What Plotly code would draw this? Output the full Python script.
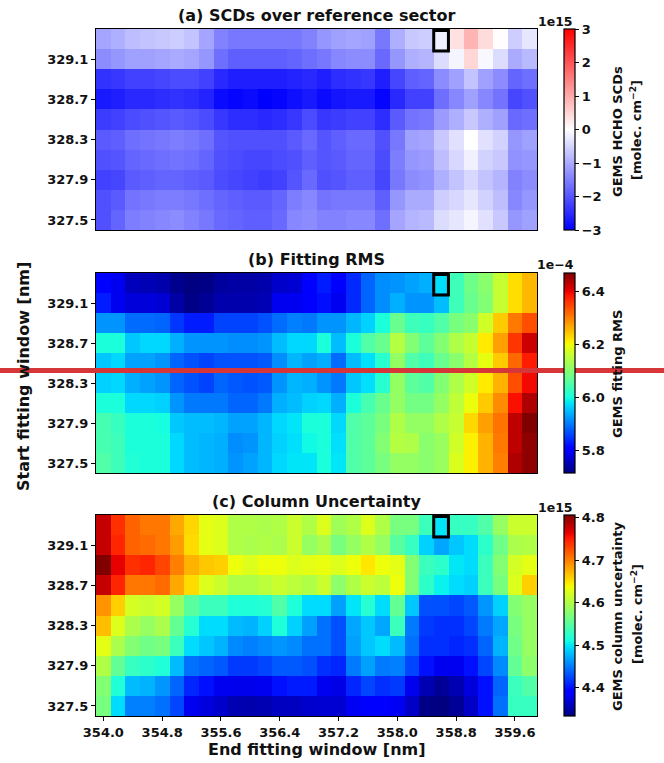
import numpy as np
import plotly.graph_objects as go

# ---- grid: end / start wavelengths of the fitting window [nm] ----
end_nm = [354.0, 354.2, 354.4, 354.6, 354.8, 355.0, 355.2, 355.4, 355.6, 355.8,
          356.0, 356.2, 356.4, 356.6, 356.8, 357.0, 357.2, 357.4, 357.6, 357.8,
          358.0, 358.2, 358.4, 358.6, 358.8, 359.0, 359.2, 359.4, 359.6, 359.8]
start_nm = [329.3, 329.1, 328.9, 328.7, 328.5, 328.3, 328.1, 327.9, 327.7, 327.5]

x_ticks = [354.0, 354.8, 355.6, 356.4, 357.2, 358.0, 358.8, 359.6]
x_ticklabels = ["354.0", "354.8", "355.6", "356.4", "357.2", "358.0", "358.8", "359.6"]
y_ticks = [327.5, 327.9, 328.3, 328.7, 329.1]
y_ticklabels = ["327.5", "327.9", "328.3", "328.7", "329.1"]

# selected window (end, start)
sel_end, sel_start = 358.6, 329.3

# ---- (a) HCHO SCDs over reference sector [1e15 molec cm-2], rows = start_nm ----
scd = [
    [-1.06, -0.94, -0.76, -0.71, -0.65, -0.59, -0.71, -1.06, -1.47, -1.59, -1.59, -1.59, -1.59, -1.59, -1.47,
     -1.24, -1.12, -1.06, -1.12, -1.59, -0.94, -0.65, -0.59, -0.18, 0.35, 0.88, 0.41, 0.02, -0.59, -0.29],
    [-1.35, -1.24, -1.12, -1.12, -1.06, -1.00, -1.06, -1.24, -1.71, -1.88, -1.88, -1.88, -1.88, -1.82, -1.71,
     -1.59, -1.41, -1.35, -1.35, -1.76, -1.24, -0.94, -0.88, -0.41, -0.12, 0.47, -0.08, -0.41, -1.00, -0.82],
    [-2.41, -2.35, -2.24, -2.24, -2.18, -2.12, -2.12, -2.24, -2.53, -2.65, -2.65, -2.65, -2.65, -2.59, -2.53,
     -2.65, -2.47, -2.41, -2.35, -2.65, -2.18, -1.88, -1.82, -1.35, -1.12, -0.71, -1.12, -1.35, -1.82, -1.71],
    [-2.71, -2.65, -2.53, -2.53, -2.47, -2.41, -2.47, -2.59, -2.88, -2.94, -2.88, -3.00, -2.94, -2.82, -2.71,
     -2.88, -2.76, -2.71, -2.71, -2.94, -2.53, -2.24, -2.24, -1.71, -1.41, -1.12, -1.41, -1.65, -2.18, -2.06],
    [-2.29, -2.24, -2.12, -2.06, -2.00, -1.94, -2.00, -2.12, -2.35, -2.47, -2.47, -2.53, -2.47, -2.35, -2.12,
     -2.35, -2.29, -2.24, -2.24, -2.47, -1.94, -1.65, -1.59, -1.18, -0.94, -0.65, -0.94, -1.12, -1.76, -1.71],
    [-1.94, -1.88, -1.71, -1.65, -1.59, -1.53, -1.59, -1.71, -2.00, -2.06, -2.06, -2.06, -2.06, -1.94, -1.76,
     -2.00, -1.88, -1.76, -1.76, -2.06, -1.59, -1.12, -1.06, -0.65, -0.35, 0.00, -0.35, -0.53, -1.24, -1.12],
    [-2.06, -2.00, -1.82, -1.76, -1.71, -1.65, -1.71, -1.82, -2.06, -2.12, -2.18, -2.18, -2.12, -2.06, -1.88,
     -2.00, -1.94, -1.82, -1.82, -2.12, -1.53, -1.24, -1.18, -0.76, -0.47, -0.18, -0.53, -0.65, -1.29, -1.24],
    [-2.24, -2.18, -1.94, -1.88, -1.82, -1.82, -1.88, -1.94, -2.12, -2.18, -2.24, -2.29, -2.24, -2.00, -1.76,
     -2.06, -2.00, -1.88, -1.88, -2.18, -1.59, -1.35, -1.29, -0.94, -0.71, -0.47, -0.71, -0.88, -1.47, -1.35],
    [-2.06, -1.94, -1.65, -1.59, -1.53, -1.53, -1.59, -1.71, -1.82, -1.88, -1.94, -1.94, -1.82, -1.53, -1.41,
     -1.65, -1.59, -1.59, -1.59, -1.88, -1.24, -1.00, -1.00, -0.59, -0.47, -0.29, -0.53, -0.76, -1.41, -1.24],
    [-2.06, -1.82, -1.53, -1.47, -1.41, -1.35, -1.47, -1.59, -1.76, -1.82, -1.88, -1.88, -1.76, -1.41, -1.35,
     -1.47, -1.47, -1.41, -1.41, -1.71, -1.06, -0.88, -0.82, -0.41, -0.29, -0.12, -0.35, -0.65, -1.24, -1.12],
]

# ---- (b) fitting RMS [1e-4] ----
rms = [
    [5.800, 5.790, 5.755, 5.750, 5.745, 5.725, 5.716, 5.720, 5.735, 5.740, 5.740, 5.745, 5.765, 5.770, 5.800,
     5.830, 5.800, 5.840, 5.885, 5.915, 5.920, 5.930, 5.940, 5.975, 6.035, 6.080, 6.105, 6.160, 6.225, 6.255],
    [5.830, 5.790, 5.775, 5.775, 5.770, 5.740, 5.720, 5.730, 5.745, 5.745, 5.745, 5.750, 5.790, 5.790, 5.800,
     5.820, 5.790, 5.840, 5.885, 5.915, 5.940, 5.920, 5.920, 5.950, 6.035, 6.075, 6.100, 6.160, 6.225, 6.255],
    [5.920, 5.920, 5.890, 5.890, 5.885, 5.850, 5.830, 5.830, 5.860, 5.860, 5.860, 5.870, 5.890, 5.905, 5.900,
     5.920, 5.920, 5.945, 5.965, 6.005, 6.075, 6.035, 6.030, 6.053, 6.090, 6.105, 6.170, 6.240, 6.306, 6.340],
    [6.005, 6.005, 5.958, 5.970, 5.970, 5.940, 5.920, 5.920, 5.920, 5.915, 5.915, 5.920, 5.950, 5.970, 5.970,
     6.005, 5.950, 6.005, 6.053, 6.075, 6.145, 6.100, 6.065, 6.100, 6.140, 6.160, 6.215, 6.275, 6.360, 6.420],
    [5.958, 5.970, 5.930, 5.930, 5.920, 5.885, 5.870, 5.860, 5.870, 5.870, 5.870, 5.876, 5.915, 5.945, 5.930,
     5.940, 5.890, 5.950, 5.975, 6.015, 6.115, 6.053, 6.035, 6.075, 6.105, 6.145, 6.190, 6.240, 6.320, 6.380],
    [5.965, 5.970, 5.940, 5.930, 5.920, 5.885, 5.870, 5.860, 5.885, 5.876, 5.870, 5.876, 5.920, 5.945, 5.940,
     5.920, 5.900, 5.958, 5.975, 6.015, 6.115, 6.065, 6.053, 6.100, 6.140, 6.170, 6.215, 6.260, 6.340, 6.395],
    [6.005, 6.005, 5.970, 5.970, 5.965, 5.920, 5.900, 5.900, 5.900, 5.885, 5.885, 5.900, 5.940, 5.950, 5.965,
     5.970, 5.940, 6.005, 6.045, 6.075, 6.115, 6.085, 6.085, 6.115, 6.155, 6.195, 6.240, 6.290, 6.390, 6.440],
    [6.045, 6.030, 6.005, 6.005, 6.000, 5.958, 5.950, 5.950, 5.945, 5.930, 5.930, 5.945, 5.970, 5.980, 6.005,
     6.005, 5.970, 6.053, 6.065, 6.090, 6.140, 6.115, 6.115, 6.140, 6.160, 6.230, 6.275, 6.310, 6.430, 6.470],
    [6.045, 6.035, 6.005, 6.005, 6.005, 5.970, 5.950, 5.945, 5.940, 5.915, 5.920, 5.945, 5.965, 5.975, 5.995,
     6.005, 5.975, 6.053, 6.065, 6.100, 6.145, 6.140, 6.105, 6.120, 6.170, 6.210, 6.260, 6.306, 6.430, 6.460],
    [6.053, 6.035, 6.010, 6.005, 6.005, 5.970, 5.950, 5.945, 5.940, 5.920, 5.930, 5.945, 5.970, 5.980, 5.980,
     6.005, 5.980, 6.053, 6.065, 6.090, 6.115, 6.115, 6.105, 6.120, 6.180, 6.210, 6.260, 6.300, 6.440, 6.460],
]

# ---- (c) column uncertainty [1e15 molec cm-2] ----
unc = [
    [4.778, 4.740, 4.714, 4.704, 4.704, 4.679, 4.656, 4.630, 4.625, 4.600, 4.600, 4.597, 4.600, 4.615, 4.600,
     4.625, 4.590, 4.600, 4.625, 4.600, 4.568, 4.568, 4.533, 4.499, 4.530, 4.530, 4.545, 4.585, 4.615, 4.615],
    [4.778, 4.745, 4.714, 4.710, 4.704, 4.685, 4.654, 4.630, 4.625, 4.600, 4.597, 4.600, 4.597, 4.615, 4.585,
     4.597, 4.568, 4.585, 4.600, 4.585, 4.550, 4.530, 4.490, 4.470, 4.485, 4.495, 4.525, 4.563, 4.597, 4.600],
    [4.806, 4.764, 4.740, 4.745, 4.729, 4.700, 4.674, 4.664, 4.660, 4.635, 4.625, 4.635, 4.635, 4.625, 4.630,
     4.633, 4.625, 4.635, 4.648, 4.635, 4.630, 4.574, 4.533, 4.525, 4.500, 4.495, 4.533, 4.574, 4.620, 4.630],
    [4.778, 4.745, 4.704, 4.704, 4.710, 4.679, 4.654, 4.625, 4.615, 4.600, 4.600, 4.607, 4.615, 4.607, 4.600,
     4.615, 4.580, 4.600, 4.615, 4.607, 4.635, 4.574, 4.525, 4.505, 4.495, 4.490, 4.533, 4.568, 4.625, 4.660],
    [4.690, 4.660, 4.620, 4.615, 4.620, 4.585, 4.550, 4.533, 4.533, 4.517, 4.517, 4.520, 4.545, 4.517, 4.495,
     4.495, 4.467, 4.499, 4.520, 4.495, 4.556, 4.485, 4.430, 4.430, 4.425, 4.434, 4.462, 4.490, 4.574, 4.585],
    [4.668, 4.625, 4.597, 4.585, 4.597, 4.556, 4.520, 4.495, 4.495, 4.480, 4.476, 4.490, 4.517, 4.490, 4.467,
     4.445, 4.430, 4.470, 4.485, 4.470, 4.533, 4.450, 4.420, 4.415, 4.415, 4.425, 4.450, 4.470, 4.568, 4.585],
    [4.630, 4.597, 4.574, 4.563, 4.568, 4.533, 4.495, 4.485, 4.476, 4.457, 4.452, 4.457, 4.462, 4.457, 4.445,
     4.445, 4.430, 4.467, 4.485, 4.495, 4.480, 4.445, 4.415, 4.415, 4.410, 4.415, 4.440, 4.476, 4.563, 4.585],
    [4.600, 4.556, 4.530, 4.525, 4.517, 4.480, 4.445, 4.440, 4.434, 4.420, 4.420, 4.425, 4.434, 4.434, 4.430,
     4.415, 4.410, 4.450, 4.467, 4.450, 4.452, 4.425, 4.400, 4.380, 4.380, 4.400, 4.425, 4.457, 4.556, 4.580],
    [4.574, 4.517, 4.480, 4.476, 4.462, 4.440, 4.410, 4.400, 4.380, 4.378, 4.378, 4.380, 4.400, 4.405, 4.405,
     4.380, 4.376, 4.410, 4.425, 4.415, 4.420, 4.380, 4.355, 4.343, 4.355, 4.372, 4.400, 4.440, 4.533, 4.545],
    [4.568, 4.495, 4.452, 4.452, 4.445, 4.425, 4.380, 4.373, 4.365, 4.355, 4.353, 4.355, 4.360, 4.360, 4.365,
     4.368, 4.368, 4.382, 4.392, 4.385, 4.382, 4.363, 4.337, 4.334, 4.343, 4.363, 4.400, 4.445, 4.530, 4.530],
]

# ---------------------------------------------------------------------------
W, H = 664, 763
FONT = "DejaVu Sans"
INK = "#111111"
TICK_SIZE = 13
TITLE_SIZE = 16


def px_x(p):
    return p / W


def px_y(p):
    return 1 - p / H


# matplotlib "jet" segment data, sampled into a plotly colorscale
_jet = {
    "r": [(0, 0), (0.35, 0), (0.66, 1), (0.89, 1), (1, 0.5)],
    "g": [(0, 0), (0.125, 0), (0.375, 1), (0.64, 1), (0.91, 0), (1, 0)],
    "b": [(0, 0.5), (0.11, 1), (0.34, 1), (0.65, 0), (1, 0)],
}
_stops = sorted({p for seg in _jet.values() for p, _ in seg})
JET = []
for s in _stops:
    ch = [np.interp(s, [p for p, _ in _jet[c]], [v for _, v in _jet[c]]) for c in "rgb"]
    JET.append([s, "rgb(%d,%d,%d)" % tuple(round(255 * v) for v in ch)])
BWR = [[0, "rgb(0,0,255)"], [0.5, "rgb(255,255,255)"], [1, "rgb(255,0,0)"]]

# plot-area boxes in pixels: (top, bottom)
X_LEFT, X_RIGHT = 96, 537
panels = [(29, 230), (273, 473), (515, 716)]

cb_common = dict(
    thickness=11, thicknessmode="pixels", lenmode="pixels",
    x=px_x(564), xanchor="left", yanchor="middle", xpad=0, ypad=0,
    outlinewidth=1.2, outlinecolor="black",
    ticks="outside", ticklen=4, tickwidth=1.2, tickcolor="black",
    tickfont=dict(family=FONT, size=TICK_SIZE, color=INK, weight="bold"),
)

specs = [
    dict(z=scd, cs=BWR, zmin=-3, zmax=3,
         tv=[-3, -2, -1, 0, 1, 2, 3], tt=["\u22123", "\u22122", "\u22121", "0", "1", "2", "3"]),
    dict(z=rms, cs=JET, zmin=5.716, zmax=6.47,
         tv=[5.8, 6.0, 6.2, 6.4], tt=["5.8", "6.0", "6.2", "6.4"]),
    dict(z=unc, cs=JET, zmin=4.334, zmax=4.806,
         tv=[4.4, 4.5, 4.6, 4.7, 4.8], tt=["4.4", "4.5", "4.6", "4.7", "4.8"]),
]

fig = go.Figure()
layout = dict(width=W, height=H, margin=dict(l=0, r=0, t=0, b=0, pad=0, autoexpand=False),
              paper_bgcolor="white", plot_bgcolor="white", showlegend=False)
shapes, annotations = [], []

for i, (sp, (top, bot)) in enumerate(zip(specs, panels)):
    k = "" if i == 0 else str(i + 1)
    cb = dict(cb_common, y=(px_y(top) + px_y(bot)) / 2, len=bot - top,
              tickvals=sp["tv"], ticktext=sp["tt"])
    fig.add_trace(go.Heatmap(
        x=end_nm, y=start_nm, z=sp["z"], colorscale=sp["cs"],
        zmin=sp["zmin"], zmax=sp["zmax"], colorbar=cb,
        xaxis="x" + k, yaxis="y" + k, hoverinfo="skip"))

    axis_line = dict(showline=True, mirror=True, linecolor="black", linewidth=1.3,
                     showgrid=False, zeroline=False, automargin=False,
                     tickfont=dict(family=FONT, size=TICK_SIZE, color=INK, weight="bold"))
    xa = dict(axis_line, domain=[px_x(X_LEFT), px_x(X_RIGHT)], anchor="y" + k,
              range=[353.9, 359.9])
    if i == 2:
        xa.update(tickvals=x_ticks, ticktext=x_ticklabels, ticks="outside",
                  ticklen=4, tickwidth=1.2, tickcolor="black")
    else:
        xa.update(showticklabels=False, ticks="")
    ya = dict(axis_line, domain=[px_y(bot), px_y(top)], anchor="x" + k,
              range=[327.4, 329.4], tickvals=y_ticks, ticktext=y_ticklabels,
              ticks="outside", ticklen=4, tickwidth=1.2, tickcolor="black")
    layout["xaxis" + k] = xa
    layout["yaxis" + k] = ya

    # selected fitting window
    shapes.append(dict(type="rect", xref="x" + k, yref="y" + k,
                       x0=sel_end - 0.105, x1=sel_end + 0.095,
                       y0=sel_start - 0.12, y1=sel_start + 0.085,
                       line=dict(color="black", width=3)))

titles = ["(a) SCDs over reference sector", "(b) Fitting RMS", "(c) Column Uncertainty"]
title_y = [15, 259, 501]
for t, ty in zip(titles, title_y):
    annotations.append(dict(text=t, x=px_x((X_LEFT + X_RIGHT) / 2), y=px_y(ty),
                            xref="paper", yref="paper", showarrow=False,
                            xanchor="center", yanchor="middle",
                            font=dict(family=FONT, size=TITLE_SIZE, color=INK, weight="bold")))

# colorbar offset labels
for t, ty in zip(["1e15", "1e\u22124", "1e15"], [21, 264, 507]):
    annotations.append(dict(text=t, x=px_x(555), y=px_y(ty), xref="paper", yref="paper",
                            showarrow=False, xanchor="center", yanchor="middle",
                            font=dict(family=FONT, size=12.5, color=INK, weight="bold")))

# colorbar labels (rotated)
cb_labels = [
    ("GEMS HCHO SCDs", 617, 132), ("[molec. cm<sup>\u22122</sup>]", 636, 130),
    ("GEMS fitting RMS", 617, 374),
    ("GEMS column uncertainty", 617, 617), ("[molec. cm<sup>\u22122</sup>]", 637, 614),
]
for t, lx, ly in cb_labels:
    annotations.append(dict(text=t, x=px_x(lx), y=px_y(ly), xref="paper", yref="paper",
                            showarrow=False, textangle=-90, xanchor="center", yanchor="middle",
                            font=dict(family=FONT, size=13, color=INK, weight="bold")))

# shared axis titles
annotations.append(dict(text="End fitting window [nm]", x=px_x(316.5), y=px_y(749),
                        xref="paper", yref="paper", showarrow=False,
                        xanchor="center", yanchor="middle",
                        font=dict(family=FONT, size=TITLE_SIZE, color=INK, weight="bold")))
annotations.append(dict(text="Start fitting window [nm]", x=px_x(23), y=px_y(377),
                        xref="paper", yref="paper", showarrow=False, textangle=-90,
                        xanchor="center", yanchor="middle",
                        font=dict(family=FONT, size=TITLE_SIZE, color=INK, weight="bold")))

# horizontal red marker line across the page
shapes.append(dict(type="line", xref="paper", yref="paper", x0=0, x1=1,
                   y0=px_y(370.5), y1=px_y(370.5),
                   line=dict(color="rgb(214,54,56)", width=5)))

layout["shapes"] = shapes
layout["annotations"] = annotations
fig.update_layout(**layout)
fig.write_html("out.html")
